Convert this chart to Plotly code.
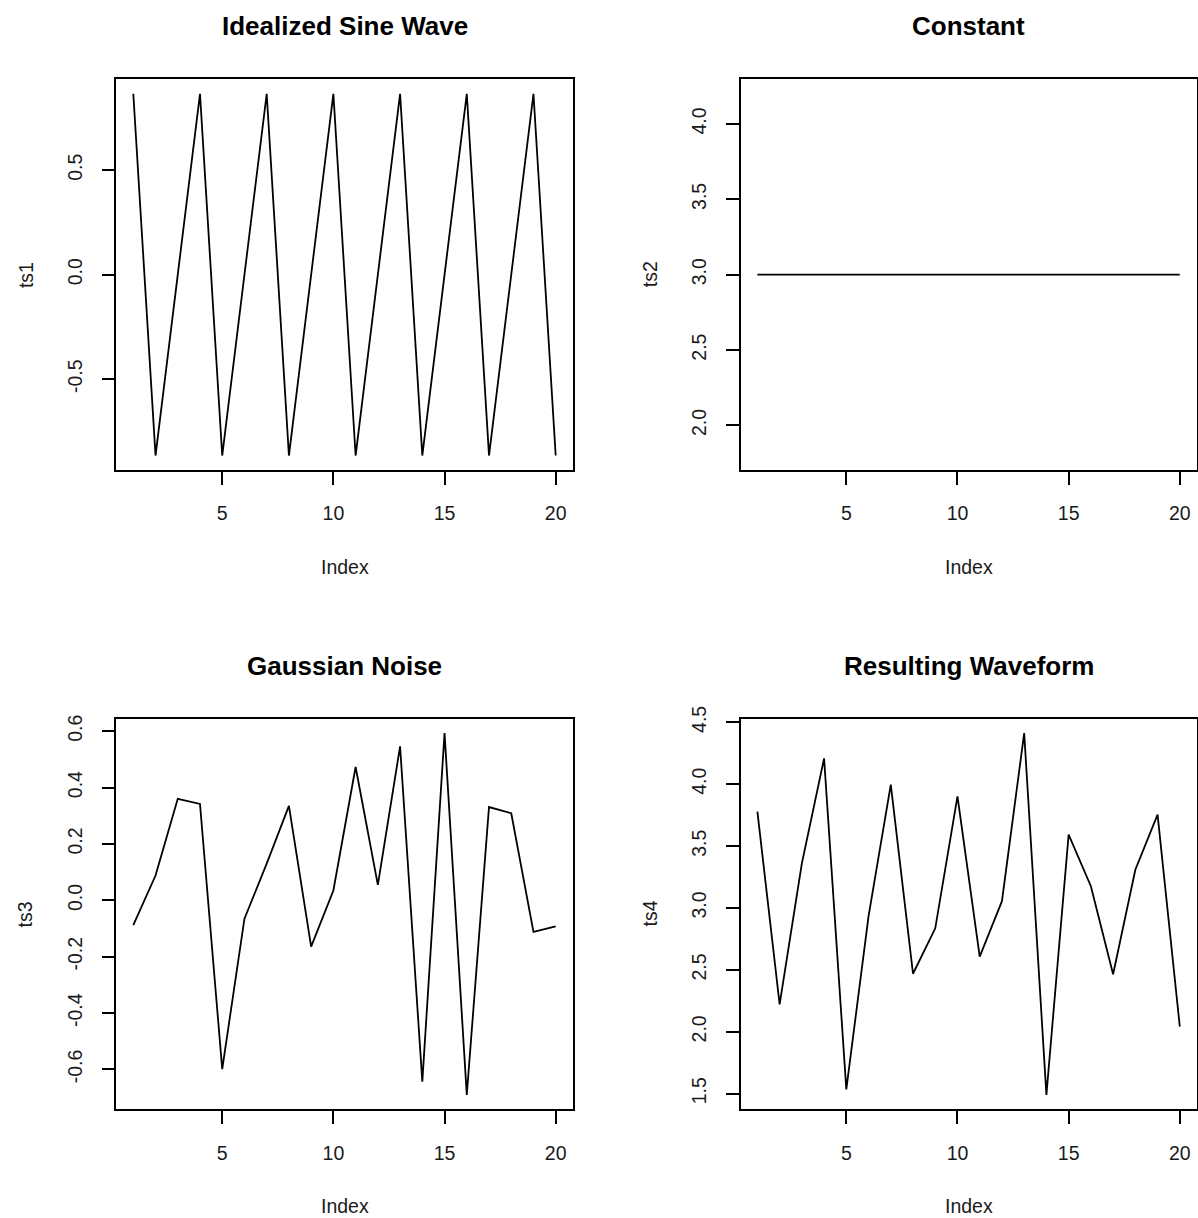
import plotly.graph_objects as go

W, H = 1198, 1218

index = list(range(1, 21))
ts1 = [0.866, -0.866, 0.0, 0.866, -0.866, 0.0, 0.866, -0.866, 0.0, 0.866,
       -0.866, 0.0, 0.866, -0.866, 0.0, 0.866, -0.866, 0.0, 0.866, -0.866]
ts2 = [3.0] * 20
ts3 = [-0.088, 0.088, 0.360, 0.342, -0.599, -0.065, 0.130, 0.335, -0.164, 0.035,
       0.473, 0.055, 0.546, -0.643, 0.593, -0.690, 0.331, 0.309, -0.112, -0.092]
ts4 = [3.778, 2.222, 3.360, 4.208, 1.535, 2.935, 3.996, 2.469, 2.836, 3.901,
       2.607, 3.055, 4.412, 1.491, 3.593, 3.176, 2.465, 3.309, 3.754, 2.042]

titles = ["Idealized Sine Wave", "Constant", "Gaussian Noise", "Resulting Waveform"]
ylabels = ["ts1", "ts2", "ts3", "ts4"]
xlabel = "Index"
xticks = [5, 10, 15, 20]
yticks = [[-0.5, 0.0, 0.5],
          [2.0, 2.5, 3.0, 3.5, 4.0],
          [-0.6, -0.4, -0.2, 0.0, 0.2, 0.4, 0.6],
          [1.5, 2.0, 2.5, 3.0, 3.5, 4.0, 4.5]]
series = [ts1, ts2, ts3, ts4]

# panel pixel boxes (left, top, right, bottom)
boxes = [(116.4, 79.3, 572.6, 470.0),
         (740.5, 79.3, 1196.7, 470.0),
         (116.4, 718.7, 572.6, 1109.3),
         (740.5, 718.7, 1196.7, 1109.3)]

FONT = "Liberation Sans, Arial, sans-serif"
TICK_SIZE = 19.5
TITLE_SIZE = 26
TXT = "#1a1a1a"


def yrange(vals):
    lo, hi = min(vals), max(vals)
    if hi == lo:
        lo, hi = lo * 0.6, hi * 1.4
    pad = 0.04 * (hi - lo)
    return [lo - pad, hi + pad]


fig = go.Figure()
annotations = []
for k in range(4):
    sfx = "" if k == 0 else str(k + 1)
    xa, ya = "x" + sfx, "y" + sfx
    L, T, R, B = boxes[k]
    fig.add_trace(go.Scatter(x=index, y=series[k], mode="lines",
                             line=dict(color="black", width=1.8),
                             xaxis=xa, yaxis=ya, showlegend=False,
                             hoverinfo="skip"))
    axis_common = dict(showgrid=False, zeroline=False, showline=True, mirror=True,
                       linecolor="black", linewidth=1.6, ticks="outside",
                       ticklen=13, tickwidth=1.6, tickcolor="black",
                       automargin=False,
                       tickfont=dict(family=FONT, size=TICK_SIZE, color=TXT))
    fig.update_layout(**{
        "xaxis" + sfx: dict(domain=[L / W, R / W], range=[0.24, 20.76],
                            tickvals=xticks, ticklabelstandoff=12,
                            anchor=ya, **axis_common),
        "yaxis" + sfx: dict(domain=[1 - B / H, 1 - T / H], range=yrange(series[k]),
                            tickvals=yticks[k],
                            ticktext=["%.1f" % v for v in yticks[k]],
                            tickangle=-90, ticklabelstandoff=12,
                            anchor=xa, **axis_common),
    })
    cx = (L + R) / 2
    cy = (T + B) / 2
    annotations.append(dict(text="<b>" + titles[k] + "</b>", xref="paper", yref="paper",
                            x=cx / W, y=1 - (T - 53) / H, xanchor="center", yanchor="middle",
                            showarrow=False,
                            font=dict(family=FONT, size=TITLE_SIZE, color="black")))
    annotations.append(dict(text=xlabel, xref="paper", yref="paper",
                            x=cx / W, y=1 - (B + 97) / H, xanchor="center", yanchor="middle",
                            showarrow=False,
                            font=dict(family=FONT, size=TICK_SIZE, color=TXT)))
    annotations.append(dict(text=ylabels[k], xref="paper", yref="paper",
                            x=(L - 91) / W, y=1 - cy / H, xanchor="center", yanchor="middle",
                            textangle=-90, showarrow=False,
                            font=dict(family=FONT, size=TICK_SIZE, color=TXT)))

fig.update_layout(width=W, height=H, autosize=False,
                  margin=dict(l=0, r=0, t=0, b=0, pad=0, autoexpand=False),
                  paper_bgcolor="white", plot_bgcolor="white",
                  annotations=annotations)

fig.write_html("out.html",
               config={"displayModeBar": False},
               post_script="document.body.style.margin='0px';"
                           "document.body.style.overflow='hidden';")
